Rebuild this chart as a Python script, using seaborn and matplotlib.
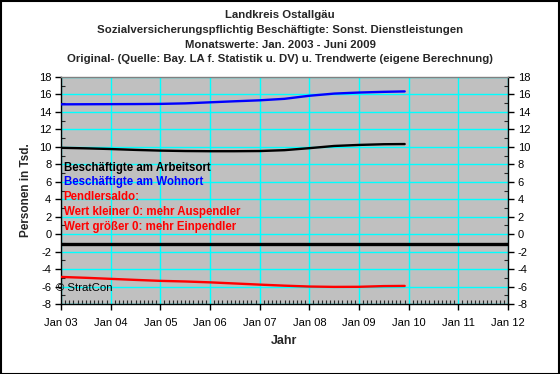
import numpy as np
import pandas as pd
import seaborn as sns
import matplotlib
matplotlib.use("Agg")
import matplotlib.pyplot as plt
from matplotlib.ticker import MultipleLocator, FixedLocator
from matplotlib.patches import Rectangle

# ---- data ----
years = [2003.0, 2003.5, 2004.0, 2004.5, 2005.0, 2005.5, 2006.0, 2006.5,
         2007.0, 2007.5, 2008.0, 2008.5, 2009.0, 2009.5, 2009.92]
arbeitsort = [9.89, 9.83, 9.75, 9.65, 9.57, 9.52, 9.50, 9.50,
              9.52, 9.62, 9.85, 10.10, 10.22, 10.30, 10.32]
wohnort = [14.87, 14.88, 14.89, 14.90, 14.92, 14.98, 15.10, 15.22,
           15.33, 15.50, 15.85, 16.10, 16.22, 16.30, 16.35]
pendlersaldo = [-4.90, -5.00, -5.12, -5.24, -5.35, -5.42, -5.52, -5.65,
                -5.78, -5.90, -6.00, -6.04, -6.03, -5.95, -5.93]
baseline = -1.15
xtick_years = list(range(2003, 2013))
xtick_labels = ["Jan 03", "Jan 04", "Jan 05", "Jan 06", "Jan 07", "Jan 08",
                "Jan 09", "Jan 10", "Jan 11", "Jan 12"]
yticks = list(range(-8, 19, 2))

title_lines = ["Landkreis Ostallgäu",
               "Sozialversicherungspflichtig Beschäftigte: Sonst. Dienstleistungen",
               "Monatswerte: Jan. 2003 - Juni 2009",
               "Original- (Quelle: Bay. LA f. Statistik u. DV) u. Trendwerte (eigene Berechnung)"]
notes = [("Beschäftigte am Arbeitsort", "black"),
         ("Beschäftigte am Wohnort", "#0000FF"),
         ("Pendlersaldo:", "#FF0000"),
         ("Wert kleiner 0: mehr Auspendler", "#FF0000"),
         ("Wert größer 0: mehr Einpendler", "#FF0000")]

sns.set_style("white")
plt.rcParams['font.family'] = ['Liberation Sans', 'DejaVu Sans']

df = pd.DataFrame({"Jahr": years * 3,
                   "Wert": arbeitsort + wohnort + pendlersaldo,
                   "Serie": (["Arbeitsort"] * len(years) + ["Wohnort"] * len(years)
                             + ["Saldo"] * len(years))})

fig = plt.figure(figsize=(5.6, 3.74), dpi=100)
fig.patch.set_facecolor("white")
ax = fig.add_axes([61 / 560, 1 - 304 / 374, (508 - 61) / 560, (304 - 77) / 374])
ax.set_facecolor("#C0C0C0")

ax.set_xlim(2003, 2012)
ax.set_ylim(-8, 18)

# grid
ax.set_axisbelow(True)
ax.xaxis.set_major_locator(FixedLocator(xtick_years))
ax.yaxis.set_major_locator(FixedLocator(yticks))
ax.xaxis.set_minor_locator(MultipleLocator(1 / 12))
ax.yaxis.set_minor_locator(MultipleLocator(1))
ax.grid(True, which="major", color="#00FFFF", linewidth=1.0)

ax.axhline(baseline, color="black", linewidth=2.4, zorder=3)

sns.lineplot(data=df, x="Jahr", y="Wert", hue="Serie",
             palette={"Arbeitsort": "black", "Wohnort": "#0000FF", "Saldo": "#FF0000"},
             linewidth=1.7, legend=False, ax=ax, zorder=4)

ax.set_xticks(xtick_years)
ax.set_xticklabels(xtick_labels)
ax.set_yticks(yticks)
ax.set_yticklabels([str(v) for v in yticks])
ax.tick_params(which="major", direction="out", length=4, width=1, labelsize=8,
               colors="black", left=True, right=True, bottom=True,
               labelleft=True, labelright=True, pad=3)
ax.tick_params(which="minor", direction="in", length=3, width=0.8,
               left=True, right=True, bottom=True, top=False)
ax.tick_params(axis="x", which="major", pad=6)

for s in ["left", "right", "bottom"]:
    ax.spines[s].set_color("black")
    ax.spines[s].set_linewidth(1.0)
ax.spines["top"].set_color("#808080")
ax.spines["top"].set_linewidth(1.0)

ax.set_xlabel("Jahr", fontsize=9, fontweight="bold")
ax.set_ylabel("Personen in Tsd.", fontsize=8.5, fontweight="bold")
ax.xaxis.set_label_coords(0.5, (304 - 340.7) / 227, transform=ax.transAxes)
ax.yaxis.set_label_coords((26 - 61) / 447, 0.5, transform=ax.transAxes)
ax.xaxis.label.set_va("center")
ax.yaxis.label.set_va("center")

for i, line in enumerate(title_lines):
    fig.text(280 / 560, 1 - (15 + i * 14.8) / 374, line, ha="center", va="center",
             fontsize=8.2, fontweight="bold")

for i, (txt, col) in enumerate(notes):
    ax.text(0.006, 1 - (167.7 + i * 14.8 - 77) / (304 - 77), txt, transform=ax.transAxes,
            ha="left", va="center", fontsize=8.3, fontweight="bold", color=col, zorder=5)

fig.text(56 / 560, 1 - 288 / 374, "© StratCon", ha="left", va="center", fontsize=8.2,
         color="black")

fig.add_artist(Rectangle((0.001, 0.001), 0.997, 0.996, transform=fig.transFigure,
                         fill=False, edgecolor="black", linewidth=1.5))

fig.savefig("out.png", dpi=100)
